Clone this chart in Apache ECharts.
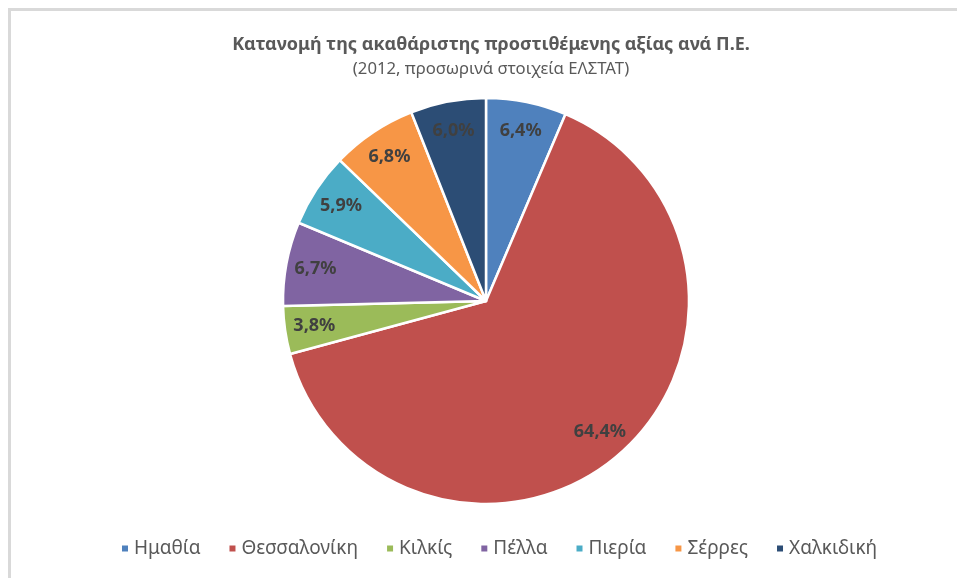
<!DOCTYPE html>
<html>
<head>
<meta charset="utf-8">
<title>Κατανομή ΑΠΑ ανά Π.Ε.</title>
<script src="https://cdn.jsdelivr.net/npm/echarts@6/dist/echarts.min.js"></script>
<style>
  html, body { margin: 0; padding: 0; background: #fff; }
  #chart { width: 957px; height: 578px; }
</style>
</head>
<body>
<div id="chart"></div>
<script>
// περιφερειακές ενότητες και μερίδια (%)
const regions = ['Ημαθία', 'Θεσσαλονίκη', 'Κιλκίς', 'Πέλλα', 'Πιερία', 'Σέρρες', 'Χαλκιδική'];
const shares = [6.4, 64.4, 3.8, 6.7, 5.9, 6.8, 6.0];
const colors = ['#4F81BD', '#C0504D', '#9BBB59', '#8064A2', '#4BACC6', '#F79646', '#2C4D75'];

const chart = echarts.init(document.getElementById('chart'));

const pieData = regions.map((name, i) => ({ name: name, value: shares[i] }));

const option = {
  color: colors,
  backgroundColor: '#ffffff',
  textStyle: { fontFamily: 'Noto Sans' },
  title: {
    text: 'Κατανομή της ακαθάριστης προστιθέμενης αξίας ανά Π.Ε.',
    subtext: '(2012, προσωρινά στοιχεία ΕΛΣΤΑΤ)',
    left: 486,
    textAlign: 'center',
    top: 31,
    itemGap: 7,
    textStyle: { fontSize: 18, fontWeight: 'bold', color: '#595959', fontFamily: 'Noto Sans' },
    subtextStyle: { fontSize: 16.7, color: '#595959', fontFamily: 'Noto Sans' }
  },
  legend: {
    bottom: 15,
    left: 115,
    icon: 'rect',
    itemWidth: 8,
    itemHeight: 8,
    itemGap: 27,
    textStyle: { fontSize: 19, color: '#595959', fontFamily: 'Noto Sans' },
    data: regions
  },
  graphic: [{
    type: 'rect',
    silent: true,
    shape: { x: 9.5, y: 9.5, width: 1200, height: 1200 },
    style: { fill: 'none', stroke: '#d9d9d9', lineWidth: 3 }
  }],
  series: [
    {
      name: 'ΑΠΑ',
      type: 'pie',
      center: [486, 301],
      radius: [0, 203],
      startAngle: 90,
      clockwise: true,
      label: { show: false },
      labelLine: { show: false },
      itemStyle: { borderColor: '#ffffff', borderWidth: 2.5 },
      emphasis: { scale: false },
      data: pieData
    },
    {
      // μόνο για τις ετικέτες, πιο κοντά στην περιφέρεια
      name: 'labels',
      type: 'pie',
      center: [486, 301],
      radius: [138, 203],
      startAngle: 90,
      clockwise: true,
      silent: true,
      tooltip: { show: false },
      itemStyle: { color: 'transparent', borderWidth: 0 },
      label: {
        show: true,
        position: 'inside',
        formatter: p => p.value.toFixed(1).replace('.', ',') + '%',
        fontSize: 18,
        fontWeight: 'bold',
        color: '#404040',
        fontFamily: 'Noto Sans'
      },
      labelLine: { show: false },
      emphasis: { disabled: true },
      data: pieData
    }
  ]
};

chart.setOption(option);
</script>
</body>
</html>
